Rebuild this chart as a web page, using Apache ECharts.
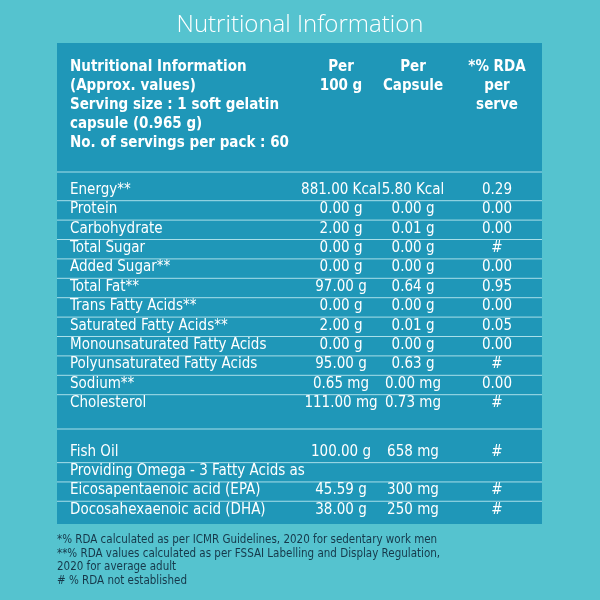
<!DOCTYPE html>
<html><head><meta charset="utf-8">
<script src="https://cdn.jsdelivr.net/npm/echarts@6/dist/echarts.min.js"></script>
<style>html,body{margin:0;padding:0;background:#55c3cf}#c{width:600px;height:600px}</style>
</head><body><div id="c"></div>
<script>
const title = "Nutritional Information";
const headerLines = ["Nutritional Information","(Approx. values)","Serving size : 1 soft gelatin","capsule (0.965 g)","No. of servings per pack : 60"];
const colHeaders = [["Per","100 g"],["Per","Capsule"],["*% RDA","per","serve"]];
const rowsA = ["Energy**","Protein","Carbohydrate","Total Sugar","Added Sugar**","Total Fat**","Trans Fatty Acids**","Saturated Fatty Acids**","Monounsaturated Fatty Acids","Polyunsaturated Fatty Acids","Sodium**","Cholesterol"];
const per100A = ["881.00 Kcal","0.00 g","2.00 g","0.00 g","0.00 g","97.00 g","0.00 g","2.00 g","0.00 g","95.00 g","0.65 mg","111.00 mg"];
const perCapA = ["5.80 Kcal","0.00 g","0.01 g","0.00 g","0.00 g","0.64 g","0.00 g","0.01 g","0.00 g","0.63 g","0.00 mg","0.73 mg"];
const rdaA = ["0.29","0.00","0.00","#","0.00","0.95","0.00","0.05","0.00","#","0.00","#"];
const rowsB = ["Fish Oil","Providing Omega - 3 Fatty Acids as","Eicosapentaenoic acid (EPA)","Docosahexaenoic acid (DHA)"];
const per100B = ["100.00 g","","45.59 g","38.00 g"];
const perCapB = ["658 mg","","300 mg","250 mg"];
const rdaB = ["#","","#","#"];
const footnotes = ["*% RDA calculated as per ICMR Guidelines, 2020 for sedentary work men","**% RDA values calculated as per FSSAI Labelling and Display Regulation,","2020 for average adult","# % RDA not established"];

const F = "'Liberation Sans Narrow','DejaVu Sans Condensed','Roboto Condensed',sans-serif";
const g = [];
const W = '#ffffff', LINE = '#a9dfe9';
const L = 57, R = 542;
g.push({type:'rect',shape:{x:L,y:43,width:R-L,height:481},style:{fill:'#1f97b8'}});
g.push({type:'text',x:300,y:25,style:{text:title,fill:W,font:"300 24px 'Open Sans',sans-serif",align:'center',verticalAlign:'middle'}});
headerLines.forEach((t,i)=>g.push({type:'text',x:70,y:67+i*19,style:{text:t,fill:W,font:"bold 15px "+F,align:'left',verticalAlign:'middle'}}));
const cx = [341,413,497];
colHeaders.forEach((h,c)=>h.forEach((t,i)=>g.push({type:'text',x:cx[c],y:67+i*19,style:{text:t,fill:W,font:"bold 15px "+F,align:'center',verticalAlign:'middle'}})));
function hline(y){g.push({type:'line',shape:{x1:L,y1:y,x2:R,y2:y},style:{stroke:LINE,lineWidth:1}});}
hline(172);
function rows(names,a,b,c,y0,step){
  names.forEach((n,i)=>{
    const y=y0+i*step;
    g.push({type:'text',x:70,y:y,style:{text:n,fill:W,font:"15px "+F,verticalAlign:'middle'}});
    [a[i],b[i],c[i]].forEach((v,k)=>g.push({type:'text',x:cx[k],y:y,style:{text:v,fill:W,font:"15px "+F,align:'center',verticalAlign:'middle'}}));
    if(i<names.length-1) hline(y+step/2+1);
  });
}
rows(rowsA,per100A,perCapA,rdaA,190,19.4);
hline(429);
rows(rowsB,per100B,perCapB,rdaB,452,19.3);
footnotes.forEach((t,i)=>g.push({type:'text',x:57,y:540+i*13.7,style:{text:t,fill:'#16384a',font:"11.5px "+F,verticalAlign:'middle'}}));
const chart = echarts.init(document.getElementById('c'));
chart.setOption({backgroundColor:'#55c3cf',graphic:{elements:g}});
</script></body></html>
